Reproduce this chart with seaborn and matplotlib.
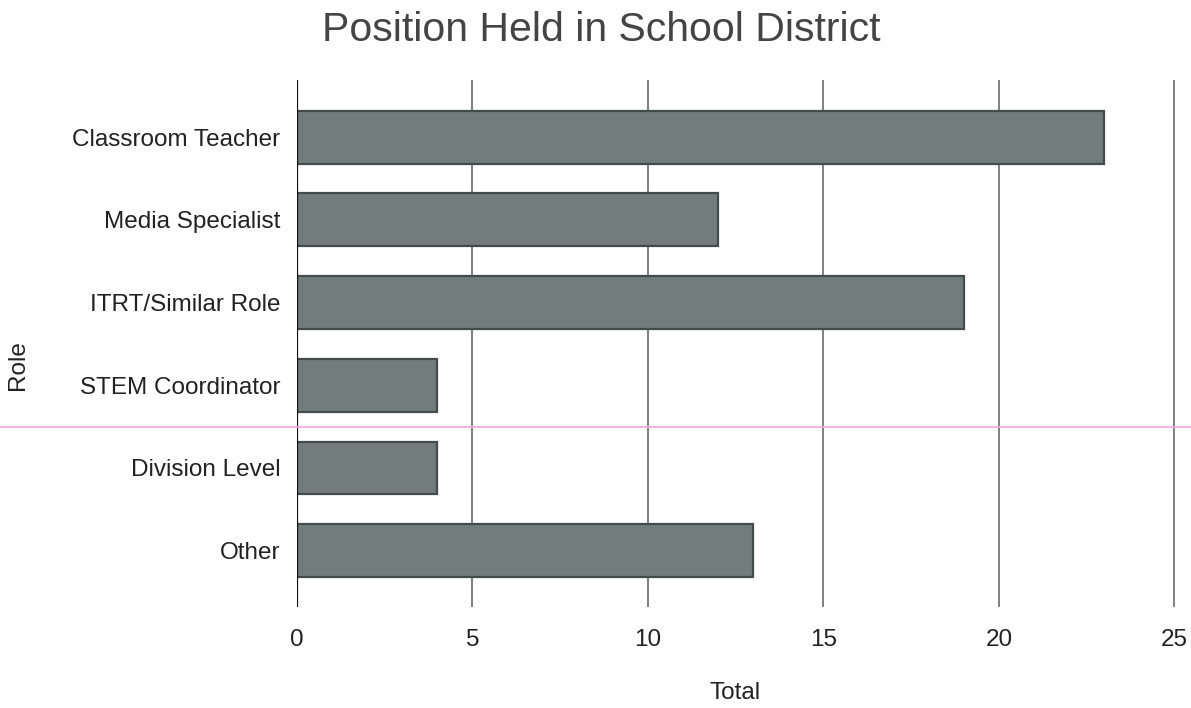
import matplotlib
matplotlib.use("Agg")
import matplotlib.pyplot as plt
from matplotlib.lines import Line2D
import seaborn as sns
import pandas as pd

roles = ["Classroom Teacher", "Media Specialist", "ITRT/Similar Role",
         "STEM Coordinator", "Division Level", "Other"]
totals = [23, 12, 19, 4, 4, 13]
x_ticks = [0, 5, 10, 15, 20, 25]

sns.set_theme(style="white")
plt.rcParams["font.family"] = ["Liberation Sans", "DejaVu Sans"]

df = pd.DataFrame({"Role": roles, "Total": totals})

fig = plt.figure(figsize=(11.91, 7.08), dpi=100)
ax = fig.add_axes([0.2494, 0.1427, 0.9866 - 0.2494, 0.887 - 0.1427])

sns.barplot(data=df, x="Total", y="Role", order=roles, ax=ax,
            color="#737c7c", saturation=1, width=0.64,
            edgecolor="#434b4b", linewidth=1.6, zorder=3)

ax.set_xlim(0, 25.02)
ax.set_ylim(5.68, -0.69)
ax.set_xticks(x_ticks)
ax.set_xticklabels([str(t) for t in x_ticks])
for t in x_ticks[1:]:
    ax.axvline(t, color="#5e5e5e", linewidth=1.1, zorder=1)
ax.axvline(0, color="#111111", linewidth=1.6, zorder=4)

for s in ax.spines.values():
    s.set_visible(False)
ax.tick_params(axis="x", length=0, pad=16, labelsize=17.5, colors="#222222")
ax.tick_params(axis="y", length=0, pad=12, labelsize=17.5, colors="#222222")

ax.set_xlabel("Total", fontsize=17.5, color="#222222")
ax.xaxis.set_label_coords(0.499, -0.142)
ax.set_ylabel("Role", fontsize=17.5, color="#222222")
ax.yaxis.set_label_coords(-0.305, 0.459)
fig.text(0.505, 0.958, "Position Held in School District", ha="center",
         va="center", fontsize=29.5, color="#444444")

# thin magenta rule across the page
fig.add_artist(Line2D([0, 1], [1 - 427 / 708] * 2, transform=fig.transFigure,
                      color="#f4a6dc", linewidth=1.2))

fig.savefig("out.png", dpi=100)
